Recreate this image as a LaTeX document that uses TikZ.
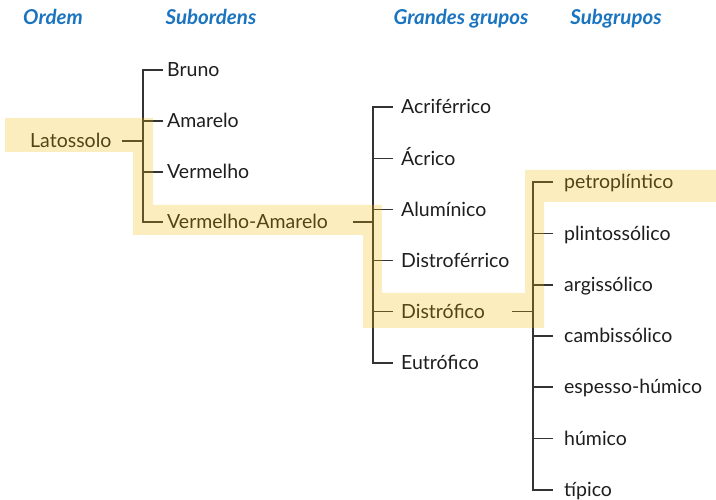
\documentclass[tikz,border=0pt]{standalone}
\usepackage{fontspec}
\setmainfont{Lato}
\definecolor{hdrblue}{HTML}{1A74BF}
\definecolor{txtcol}{HTML}{1E1E1E}
\definecolor{linecol}{HTML}{333333}
\definecolor{hlcol}{RGB}{243,184,0}
\begin{document}
\begin{tikzpicture}[x=1pt,y=-1pt,
  hdr/.style={anchor=base,inner sep=0pt,text=hdrblue,font=\fontsize{20.5}{23}\selectfont\bfseries\itshape},
  lbl/.style={anchor=west,inner sep=0pt,text=txtcol,text height=13.5pt,text depth=0pt,font=\fontsize{19.5}{22}\selectfont},
  conn/.style={draw=linecol,line width=1.2pt},
  hilite/.style={fill=hlcol,fill opacity=0.25,draw=none}]
\useasboundingbox (0,0) rectangle (716,500);
% headers
\node[hdr] (h1) at (53,25) {Ordem};
\node[hdr] (h2) at (211,25) {Subordens};
\node[hdr] (h3) at (461,25) {Grandes grupos};
\node[hdr] (h4) at (616,25) {Subgrupos};
% level 1
\node[lbl] (lat) at (30,141) {Latossolo};
% level 2
\node[lbl] (bru) at (167,70) {Bruno};
\node[lbl] (ama) at (167,121) {Amarelo};
\node[lbl] (ver) at (167,172) {Vermelho};
\node[lbl] (va) at (167,222) {Vermelho-Amarelo};
% level 3
\node[lbl] (acf) at (401,107) {Acriférrico};
\node[lbl] (acr) at (401,158.5) {Ácrico};
\node[lbl] (alu) at (401,209.5) {Alumínico};
\node[lbl] (dsf) at (401,260.5) {Distroférrico};
\node[lbl] (dst) at (401,311.5) {Distrófico};
\node[lbl] (eut) at (401,363) {Eutrófico};
% level 4
\node[lbl] (pet) at (564,182) {petroplíntico};
\node[lbl] (pli) at (564,233.5) {plintossólico};
\node[lbl] (arg) at (564,285) {argissólico};
\node[lbl] (cam) at (564,336) {cambissólico};
\node[lbl] (esp) at (564,387) {espesso-húmico};
\node[lbl] (hum) at (564,438.5) {húmico};
\node[lbl] (tip) at (564,490) {típico};
% stems
\coordinate (s2) at (143,0);
\coordinate (s3) at (373,0);
\coordinate (s4) at (533,0);
\coordinate (p1) at (122,0);
\coordinate (p2) at (353,0);
\coordinate (p3) at (512,0);
% level 1 -> 2
\draw[conn] (lat.east -| p1) -- (lat.east -| s2);
\draw[conn] ([xshift=-4pt]bru.west) -- (bru.west -| s2) -- (va.west -| s2) -- ([xshift=-4pt]va.west);
\draw[conn] ([xshift=-4pt]ama.west) -- (ama.west -| s2);
\draw[conn] ([xshift=-4pt]ver.west) -- (ver.west -| s2);
% level 2 -> 3
\draw[conn] (va.east -| p2) -- (va.east -| s3);
\draw[conn] ([xshift=-8pt]acf.west) -- (acf.west -| s3) -- (eut.west -| s3) -- ([xshift=-8pt]eut.west);
\draw[conn] ([xshift=-8pt]acr.west) -- (acr.west -| s3);
\draw[conn] ([xshift=-8pt]alu.west) -- (alu.west -| s3);
\draw[conn] ([xshift=-8pt]dsf.west) -- (dsf.west -| s3);
\draw[conn] ([xshift=-8pt]dst.west) -- (dst.west -| s3);
% level 3 -> 4
\draw[conn] (dst.east -| p3) -- (dst.east -| s4);
\draw[conn] ([xshift=-11pt]pet.west) -- (pet.west -| s4) -- (tip.west -| s4) -- ([xshift=-11pt]tip.west);
\draw[conn] ([xshift=-11pt]pli.west) -- (pli.west -| s4);
\draw[conn] ([xshift=-11pt]arg.west) -- (arg.west -| s4);
\draw[conn] ([xshift=-11pt]cam.west) -- (cam.west -| s4);
\draw[conn] ([xshift=-11pt]esp.west) -- (esp.west -| s4);
\draw[conn] ([xshift=-11pt]hum.west) -- (hum.west -| s4);
% highlight path
\path[hilite] (5,118) -- (153,118) -- (153,205) -- (382,205) -- (382,293)
  -- (525,293) -- (525,170) -- (716,170) -- (716,202) -- (544,202)
  -- (544,328) -- (363,328) -- (363,235) -- (133,235) -- (133,152) -- (5,152) -- cycle;
\end{tikzpicture}
\end{document}
